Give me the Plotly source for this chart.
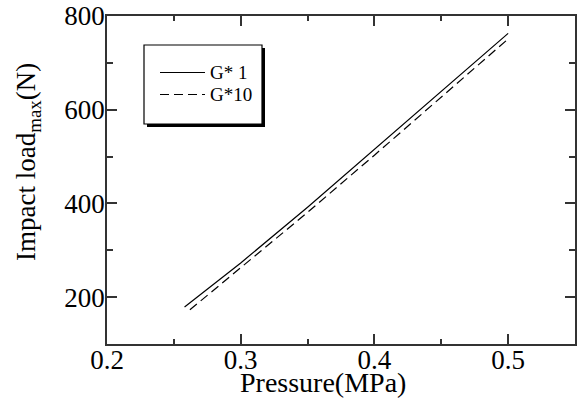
import plotly.graph_objects as go

pressure_g1 = [0.258, 0.30, 0.35, 0.40, 0.45, 0.50]
load_g1 = [179, 273, 392, 515, 639, 763]
pressure_g10 = [0.262, 0.30, 0.35, 0.40, 0.45, 0.50]
load_g10 = [173, 262, 381, 503, 627, 751]
series_names = ["G* 1", "G*10"]
x_title = "Pressure(MPa)"
y_title = "Impact load<sub>max</sub>(N)"

FONT = "Liberation Serif"
W, H = 581, 410
L, R, T, B = 107, 6, 16, 66
PW, PH = W - L - R, H - T - B


def px(x):
    return (x - L) / PW


def py(y):
    return (H - B - y) / PH


fig = go.Figure()
fig.add_trace(go.Scatter(x=pressure_g1, y=load_g1, mode="lines", name=series_names[0],
                         line=dict(color="black", width=1.2), showlegend=False))
fig.add_trace(go.Scatter(x=pressure_g10, y=load_g10, mode="lines", name=series_names[1],
                         line=dict(color="black", width=1.2, dash="9px,5px"), showlegend=False))

axis_common = dict(showgrid=False, zeroline=False, showline=True, linecolor="#333333",
                   linewidth=1.5, mirror="ticks", ticks="inside", ticklen=10, tickwidth=1.5,
                   tickcolor="#333333", tickfont=dict(family=FONT, size=27, color="black"),
                   automargin=False)

fig.update_xaxes(range=[0.2, 0.55], tick0=0.2, dtick=0.1, tickformat=".1f", ticklabelstandoff=-9,
                 minor=dict(dtick=0.05, tick0=0.2, ticks="inside", ticklen=5, tickwidth=1.5, tickcolor="#333333"),
                 **axis_common)
fig.update_yaxes(range=[100, 800], tickvals=[200, 400, 600, 800], ticklabelstandoff=-5,
                 minor=dict(tickvals=[100, 300, 500, 700], ticks="inside", ticklen=6, tickwidth=1.5, tickcolor="#333333"),
                 **axis_common)

# axis titles
fig.add_annotation(text=x_title, xref="paper", yref="paper", x=px(323), y=py(382),
                   xanchor="center", yanchor="middle", showarrow=False,
                   font=dict(family=FONT, size=28, color="black"))
fig.add_annotation(text=y_title, xref="paper", yref="paper", x=px(28), y=py(162),
                   xanchor="center", yanchor="middle", showarrow=False, textangle=-90,
                   font=dict(family=FONT, size=27, color="black"))

# legend frame with shadow
fig.add_shape(type="rect", xref="paper", yref="paper", layer="above",
              x0=px(147), x1=px(265), y0=py(127), y1=py(48),
              fillcolor="black", line=dict(width=0))
fig.add_shape(type="rect", xref="paper", yref="paper", layer="above",
              x0=px(144), x1=px(262), y0=py(124), y1=py(45),
              fillcolor="white", line=dict(color="black", width=1.2))
# legend samples
fig.add_shape(type="line", xref="paper", yref="paper", layer="above",
              x0=px(160), x1=px(205), y0=py(72.5), y1=py(72.5),
              line=dict(color="black", width=1.2))
fig.add_shape(type="line", xref="paper", yref="paper", layer="above",
              x0=px(160), x1=px(205), y0=py(94.5), y1=py(94.5),
              line=dict(color="black", width=1.2, dash="9px,5px"))
for name, yy in zip(series_names, [72.5, 94.5]):
    fig.add_annotation(text=name, xref="paper", yref="paper", x=px(208), y=py(yy),
                       xanchor="left", yanchor="middle", showarrow=False,
                       font=dict(family=FONT, size=19, color="black"))

fig.update_layout(
    width=W, height=H,
    margin=dict(l=L, r=R, t=T, b=B),
    paper_bgcolor="white", plot_bgcolor="white",
    showlegend=False,
)

fig.write_html("out.html", config={"displayModeBar": False},
               post_script="document.body.style.margin='0';")
